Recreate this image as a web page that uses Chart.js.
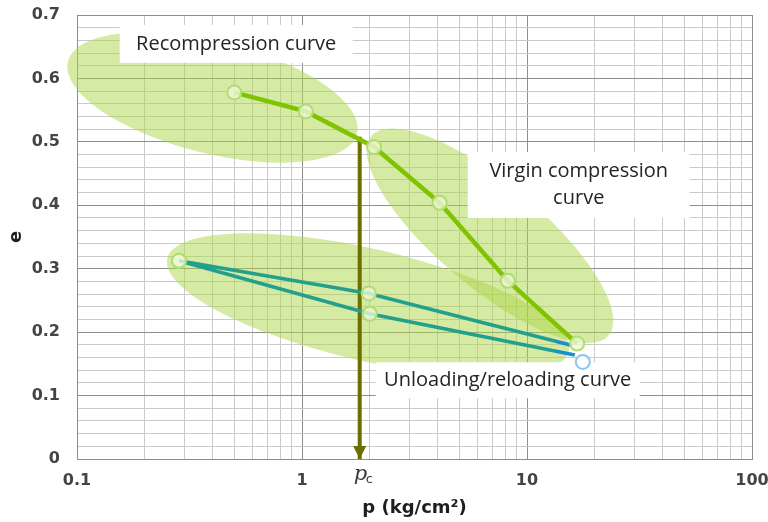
<!DOCTYPE html>
<html>
<head>
<meta charset="utf-8">
<script src="https://cdn.jsdelivr.net/npm/chart.js@4/dist/chart.umd.min.js"></script>
<style>
  html, body { margin: 0; padding: 0; background: #fff; }
  #wrap { width: 768px; height: 522px; position: relative; }
</style>
</head>
<body>
<div id="wrap"><canvas id="c" width="768" height="522"></canvas></div>
<script>
// Oedometer test: void ratio e against pressure p on a log axis
const loadingP   = [0.5, 1.04, 2.09, 4.09, 8.21, 16.7];
const loadingE   = [0.578, 0.548, 0.492, 0.404, 0.281, 0.182];
const unloadingP = [15.9, 1.98, 0.284];
const unloadingE = [0.179, 0.261, 0.3125];
const reloadingP = [0.284, 2.0, 16.3];
const reloadingE = [0.3125, 0.229, 0.164];
const endP = [17.7];
const endE = [0.153];
const pcP = [1.805, 1.805];
const pcE = [0.508, 0];

const xTickLabels = ['0.1', '1', '10', '100'];
const yTickLabels = ['0', '0.1', '0.2', '0.3', '0.4', '0.5', '0.6', '0.7'];

const GREEN = '#80C400';
const TEAL = '#22A08C';
const BLUE = '#1A8ED2';
const OLIVE = '#6C6E00';
const MAJOR_GRID = '#8E8E8E';
const MINOR_GRID = '#CACACA';

const toPoints = (xs, ys) => xs.map((x, i) => ({ x: x, y: ys[i] }));

// shaded regions around each branch of the curve (centre in data units, radii in px)
const regions = [
  { p: 0.40,  e: 0.570, rx: 149, ry: 56, rot: 14 },
  { p: 6.85,  e: 0.352, rx: 155, ry: 52, rot: 40 },
  { p: 1.965, e: 0.243, rx: 206, ry: 56, rot: 13 }
];

// boxed captions for the three branches
const captions = [
  { lines: ['Recompression curve'], p: 0.510, e: 0.6544, w: 233, h: 38, gap: 27 },
  { lines: ['Virgin compression', 'curve'], p: 16.98, e: 0.432, w: 222, h: 66, gap: 27 },
  { lines: ['Unloading/reloading curve'], p: 8.21, e: 0.1242, w: 264, h: 36, gap: 27 }
];

function tealToBlue(ctx) {
  const chart = ctx.chart;
  const area = chart.chartArea;
  if (!area) return TEAL;
  const xs = chart.scales.x.getPixelForValue(13.3);
  const f = Math.max(0, Math.min(1, (xs - area.left) / (area.right - area.left)));
  const g = chart.ctx.createLinearGradient(area.left, 0, area.right, 0);
  g.addColorStop(0, TEAL);
  g.addColorStop(f, TEAL);
  g.addColorStop(Math.min(1, f + 0.002), BLUE);
  g.addColorStop(1, BLUE);
  return g;
}

const backdrop = {
  id: 'backdrop',
  beforeDatasetsDraw(chart) {
    const { ctx, scales: { x, y } } = chart;
    ctx.save();
    ctx.fillStyle = 'rgba(172, 214, 72, 0.5)';
    regions.forEach(r => {
      ctx.beginPath();
      ctx.ellipse(x.getPixelForValue(r.p), y.getPixelForValue(r.e), r.rx, r.ry, r.rot * Math.PI / 180, 0, Math.PI * 2);
      ctx.fill();
    });
    ctx.font = '20px "Open Sans"';
    ctx.textAlign = 'center';
    ctx.textBaseline = 'middle';
    captions.forEach(c => {
      const cx = x.getPixelForValue(c.p);
      const cy = y.getPixelForValue(c.e);
      ctx.fillStyle = '#ffffff';
      ctx.fillRect(cx - c.w / 2, cy - c.h / 2, c.w, c.h);
      ctx.fillStyle = '#242424';
      const n = c.lines.length;
      c.lines.forEach((t, i) => {
        ctx.fillText(t, cx, cy + (i - (n - 1) / 2) * c.gap);
      });
    });
    ctx.restore();
  },
  afterDatasetsDraw(chart) {
    const { ctx, scales: { x, y } } = chart;
    const px = x.getPixelForValue(pcP[1]);
    const py = y.getPixelForValue(pcE[1]);
    ctx.save();
    // arrow head at the foot of the pre-consolidation line
    ctx.fillStyle = OLIVE;
    ctx.beginPath();
    ctx.moveTo(px - 6.5, py - 13);
    ctx.lineTo(px + 6.5, py - 13);
    ctx.lineTo(px, py);
    ctx.closePath();
    ctx.fill();
    // p_c label under the axis
    ctx.fillStyle = '#3A3A3A';
    ctx.textBaseline = 'alphabetic';
    ctx.textAlign = 'left';
    ctx.font = 'italic 21px "DejaVu Serif"';
    ctx.fillText('p', px - 6, py + 21);
    ctx.font = '13px "DejaVu Sans"';
    ctx.fillText('c', px + 6, py + 24);
    ctx.restore();
  }
};

const isDecade = v => Math.abs(Math.log10(v) - Math.round(Math.log10(v))) < 1e-9;
const isTenth = v => Math.abs(v * 10 - Math.round(v * 10)) < 1e-6;

const markerFill = 'rgba(236, 247, 214, 0.8)';
const markerEdge = '#B2DC74';

new Chart(document.getElementById('c'), {
  type: 'line',
  data: {
    datasets: [
      {
        data: toPoints(loadingP, loadingE),
        borderColor: GREEN, borderWidth: 4.5,
        pointRadius: 7, pointBorderWidth: 2,
        pointBackgroundColor: markerFill, pointBorderColor: markerEdge
      },
      {
        data: toPoints(unloadingP, unloadingE),
        borderColor: tealToBlue, borderWidth: 3.5,
        pointRadius: [0, 7, 7], pointBorderWidth: 2,
        pointBackgroundColor: markerFill, pointBorderColor: markerEdge
      },
      {
        data: toPoints(reloadingP, reloadingE),
        borderColor: tealToBlue, borderWidth: 3.5,
        pointRadius: [7, 7, 0], pointBorderWidth: 2,
        pointBackgroundColor: markerFill, pointBorderColor: markerEdge
      },
      {
        data: toPoints(endP, endE),
        showLine: false,
        pointRadius: 7, pointBorderWidth: 2,
        pointBackgroundColor: '#FFFFFF', pointBorderColor: '#8CC4F2'
      },
      {
        data: toPoints(pcP, pcE),
        borderColor: OLIVE, borderWidth: 4, pointRadius: 0
      }
    ]
  },
  options: {
    responsive: false,
    animation: false,
    events: [],
    layout: { padding: { top: 15, right: 16, left: 0, bottom: 0 } },
    plugins: { legend: { display: false }, tooltip: { enabled: false } },
    scales: {
      x: {
        type: 'logarithmic',
        min: 0.1, max: 100,
        afterBuildTicks(scale) {
          const vals = [];
          for (let d = -1; d <= 1; d++) {
            for (let m = 1; m <= 9; m++) vals.push(parseFloat((m * Math.pow(10, d)).toPrecision(3)));
          }
          vals.push(100);
          scale.ticks = vals.map(v => ({ value: v }));
        },
        afterFit(scale) {
          scale.height = 63;
          scale.paddingLeft = 0;
          scale.paddingRight = 0;
        },
        grid: {
          drawTicks: false,
          color: ctx => (ctx.tick && isDecade(ctx.tick.value)) ? MAJOR_GRID : MINOR_GRID,
          lineWidth: 1
        },
        border: { color: MAJOR_GRID, width: 1 },
        ticks: {
          autoSkip: false, maxRotation: 0, padding: 12,
          color: '#444444',
          font: { family: 'DejaVu Sans', size: 16, weight: 'bold' },
          callback: function (v) {
            if (!isDecade(v)) return '';
            return xTickLabels[Math.round(Math.log10(v)) + 1];
          }
        },
        title: {
          display: true, text: 'p (kg/cm²)', color: '#1E1E1E',
          font: { family: 'DejaVu Sans', size: 18, weight: 'bold' },
          padding: { top: 0, bottom: 3 }
        }
      },
      y: {
        min: 0, max: 0.7,
        afterBuildTicks(scale) {
          const vals = [];
          for (let i = 0; i <= 35; i++) vals.push(Math.round(i * 2) / 100);
          scale.ticks = vals.map(v => ({ value: v }));
        },
        afterFit(scale) {
          scale.width = 77;
          scale.paddingTop = 0;
          scale.paddingBottom = 0;
        },
        grid: {
          drawTicks: false,
          color: ctx => (ctx.tick && isTenth(ctx.tick.value)) ? MAJOR_GRID : MINOR_GRID,
          lineWidth: 1
        },
        border: { color: MAJOR_GRID, width: 1 },
        ticks: {
          autoSkip: false, padding: 17,
          color: '#444444',
          font: { family: 'DejaVu Sans', size: 16, weight: 'bold' },
          callback: function (v) {
            if (!isTenth(v)) return '';
            return yTickLabels[Math.round(v * 10)];
          }
        },
        title: {
          display: true, text: 'e', color: '#1E1E1E',
          font: { family: 'DejaVu Sans', size: 18, weight: 'bold' },
          padding: { top: 6, bottom: 0 }
        }
      }
    }
  },
  plugins: [backdrop]
});
</script>
</body>
</html>
